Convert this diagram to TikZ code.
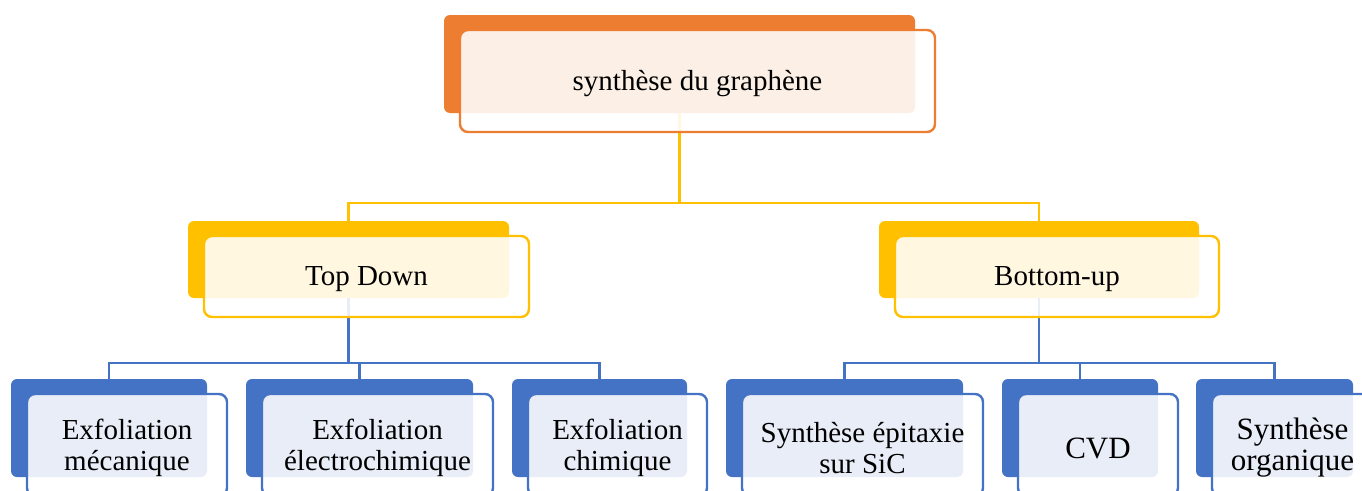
\documentclass[tikz,border=0pt]{standalone}
\usepackage{fontspec}
\setmainfont{Liberation Serif}
\usetikzlibrary{positioning,backgrounds}
\definecolor{orangeA}{HTML}{ED7D31}
\definecolor{gold}{HTML}{FFC000}
\definecolor{blueA}{HTML}{4472C4}

\begin{document}
\begin{tikzpicture}[x=1pt, y=-1pt,
    back/.style={fill=#1, rounded corners=6pt, inner sep=0pt, outer sep=0pt},
    front/.style={draw=#1, line width=2.4pt, fill=white, fill opacity=0.88, text opacity=1,
        rounded corners=8pt, inner sep=0pt, outer sep=0pt},
    txt/.style={align=center, yshift=-3pt, font=\fontsize{#1}{31}\selectfont},
    conn/.style={draw=#1, line width=2.2pt}
]
    \useasboundingbox (0,0) rectangle (1362,490);

    % niveau 1
    \node [back=orangeA, minimum width=471pt, minimum height=98pt] (synth) at (679.5,64) {};
    \node [front=orangeA, minimum width=475pt, minimum height=102pt, below right=15pt and 16pt of synth.north west,
        label={[txt=29]center:synthèse du graphène}] (synthtxt) {};

    % niveau 2
    \foreach \nom/\cx/\w/\txt in {topdown/348.5/321/Top Down, bottomup/1039/320/Bottom-up} {
        \pgfmathsetmacro\wf{\w+4}
        \node [back=gold, minimum width=\w pt, minimum height=77pt] (\nom) at (\cx,259.5) {};
        \node [front=gold, minimum width=\wf pt, minimum height=81pt, below right=15pt and 16pt of \nom.north west,
            label={[txt=29]center:\txt}] (\nom txt) {};
    }

    % niveau 3
    \foreach \nom/\cx/\w/\fs/\txt in {exmeca/109/196/29/{Exfoliation\\mécanique},
        exelec/359.5/227/29/{Exfoliation\\électrochimique},
        exchim/599.5/175/29/{Exfoliation\\chimique},
        epitaxie/844.5/237/29/{Synthèse épitaxie\\sur SiC},
        cvd/1080/156/31/{CVD},
        organique/1274.5/157/31/{Synthèse\\organique}} {
        \pgfmathsetmacro\wf{\w+4}
        \node [back=blueA, minimum width=\w pt, minimum height=98pt] (\nom) at (\cx,428) {};
        \node [front=blueA, minimum width=\wf pt, minimum height=102pt, below right=15pt and 16pt of \nom.north west,
            label={[txt=\fs]center:\txt}] (\nom txt) {};
    }

    % liaisons
    \begin{pgfonlayer}{background}
        \foreach \nom in {topdown,bottomup}
            \draw [conn=gold] (synth.south) |- ([yshift=18pt]\nom.north) -- (\nom.north);
        \foreach \nom in {exmeca,exelec,exchim}
            \draw [conn=blueA] (topdown.south) |- ([yshift=16pt]\nom.north) -- (\nom.north);
        \foreach \nom in {epitaxie,cvd,organique}
            \draw [conn=blueA] (bottomup.south) |- ([yshift=16pt]\nom.north) -- (\nom.north);
    \end{pgfonlayer}
\end{tikzpicture}
\end{document}
